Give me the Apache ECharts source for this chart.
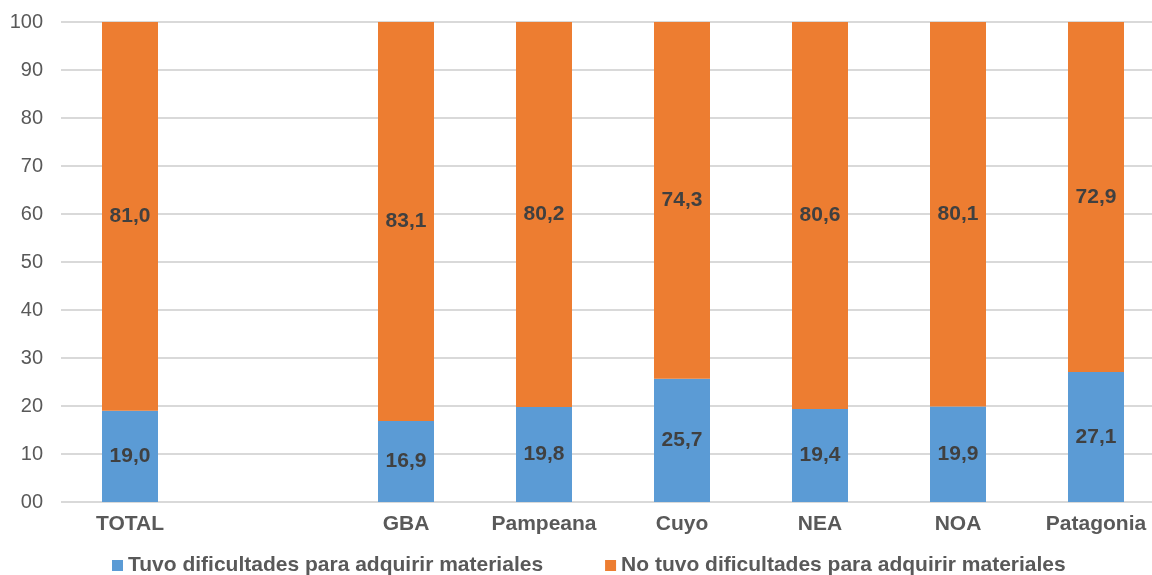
<!DOCTYPE html>
<html>
<head>
<meta charset="utf-8">
<script src="https://cdn.jsdelivr.net/npm/echarts@6/dist/echarts.min.js"></script>
<style>html,body{margin:0;padding:0;background:#fff;overflow:hidden}#c{width:1165px;height:575px}</style>
</head>
<body>
<div id="c"></div>
<script>
const categories = ['TOTAL', '', 'GBA', 'Pampeana', 'Cuyo', 'NEA', 'NOA', 'Patagonia'];
const tuvo = [19.0, null, 16.9, 19.8, 25.7, 19.4, 19.9, 27.1];
const noTuvo = [81.0, null, 83.1, 80.2, 74.3, 80.6, 80.1, 72.9];
const seriesNames = ['Tuvo dificultades para adquirir materiales', 'No tuvo dificultades para adquirir materiales'];
const yTicks = [0, 10, 20, 30, 40, 50, 60, 70, 80, 90, 100];

const FONT = 'Liberation Sans, Arial, sans-serif';
const fmt = p => (p.value == null ? '' : p.value.toFixed(1).replace('.', ','));
const lbl = {
  show: true, position: 'inside', formatter: fmt,
  color: '#404040', fontFamily: FONT, fontWeight: 'bold', fontSize: 21
};
const chart = echarts.init(document.getElementById('c'));
chart.setOption({
  animation: false,
  grid: { left: 61, right: 0, top: 22, bottom: 73 },
  legend: {
    top: 550, left: 107, itemWidth: 11, itemHeight: 11, itemGap: 62,
    icon: 'rect',
    textStyle: { color: '#595959', fontFamily: FONT, fontWeight: 'bold', fontSize: 21 },
    data: seriesNames
  },
  xAxis: {
    type: 'category', data: categories,
    axisLine: { show: false }, axisTick: { show: false },
    axisLabel: { color: '#595959', fontFamily: FONT, fontWeight: 'bold', fontSize: 21, margin: 12, interval: 0 }
  },
  yAxis: {
    type: 'value', min: yTicks[0], max: yTicks[yTicks.length - 1], interval: 10,
    axisLine: { show: false }, axisTick: { show: false },
    splitLine: { lineStyle: { color: '#D9D9D9', width: 2 } },
    axisLabel: {
      color: '#595959', fontFamily: FONT, fontSize: 20, margin: 18,
      formatter: v => (v === 0 ? '00' : String(v))
    }
  },
  series: [
    { name: seriesNames[0], type: 'bar', stack: 's', barWidth: 56, data: tuvo, itemStyle: { color: '#5B9BD5' }, label: lbl },
    { name: seriesNames[1], type: 'bar', stack: 's', barWidth: 56, data: noTuvo, itemStyle: { color: '#ED7D31' }, label: lbl }
  ]
});
</script>
</body>
</html>
